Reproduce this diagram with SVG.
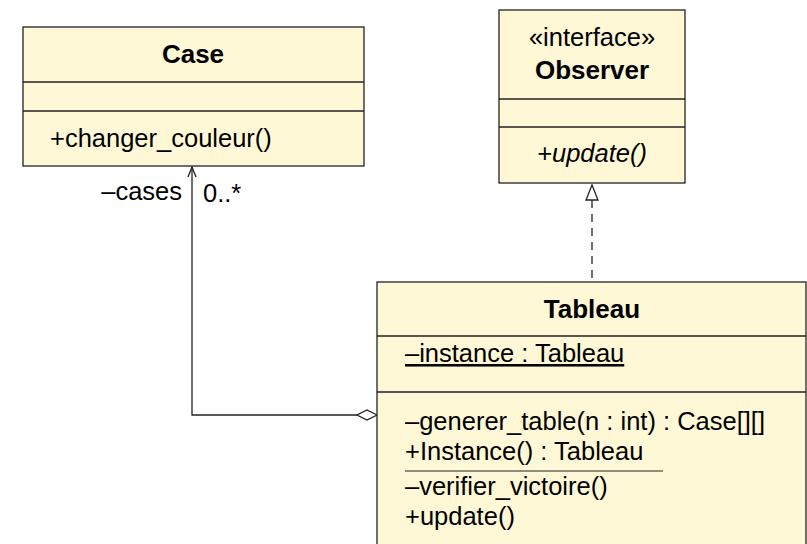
<svg xmlns="http://www.w3.org/2000/svg" width="807" height="544" viewBox="0 0 807 544">
<style>
.box{fill:#fff8d6;stroke:#222;stroke-width:1.3}
.sep{stroke:#222;stroke-width:1.3}
text{font-family:"Liberation Sans",Arial,sans-serif;font-size:25.5px;fill:#000}
.t{font-weight:bold;text-anchor:middle;font-size:26px}
.c{text-anchor:middle}
.e{stroke:#222;stroke-width:1.3;fill:none}
</style>
<g id="connectors">
<path class="e" d="M357,415 L192,415 L192,167"/>
<path d="M188,177 L192,167 L196,177" class="e"/>
<path d="M377,415 L367,410 L357,415 L367,420 Z" fill="#fff" stroke="#222" stroke-width="1.3"/>
<path class="e" d="M592,200 L592,282" stroke-dasharray="8,6"/>
<path d="M592,185 L586,200 L598,200 Z" fill="#fff" stroke="#222" stroke-width="1.3"/>
<text x="182" y="200" text-anchor="end">–cases</text>
<text x="203" y="202">0..*</text>
</g>
<g id="Case">
<rect class="box" x="23" y="27" width="341" height="139"/>
<line class="sep" x1="23" y1="82" x2="364" y2="82"/>
<line class="sep" x1="23" y1="111" x2="364" y2="111"/>
<text class="t" x="193" y="63">Case</text>
<text x="50" y="147">+changer_couleur()</text>
</g>
<g id="Observer">
<rect class="box" x="499" y="10" width="186" height="173"/>
<line class="sep" x1="499" y1="99" x2="685" y2="99"/>
<line class="sep" x1="499" y1="127" x2="685" y2="127"/>
<text class="c" x="592" y="46">«interface»</text>
<text class="t" x="592" y="79">Observer</text>
<text class="c" x="592" y="162" font-style="italic">+update()</text>
</g>
<g id="Tableau">
<rect class="box" x="377" y="282" width="429" height="270"/>
<line class="sep" x1="377" y1="336" x2="806" y2="336"/>
<line class="sep" x1="377" y1="392" x2="806" y2="392"/>
<text class="t" x="592" y="318">Tableau</text>
<text x="405" y="362" text-decoration="underline">–instance : Tableau</text>
<text x="405" y="430">–generer_table(n : int) : Case[][]</text>
<text x="405" y="460">+Instance() : Tableau</text>
<line x1="405" y1="471" x2="663" y2="471" stroke="#222" stroke-width="1.2"/>
<text x="405" y="495">–verifier_victoire()</text>
<text x="405" y="525">+update()</text>
</g>
</svg>
